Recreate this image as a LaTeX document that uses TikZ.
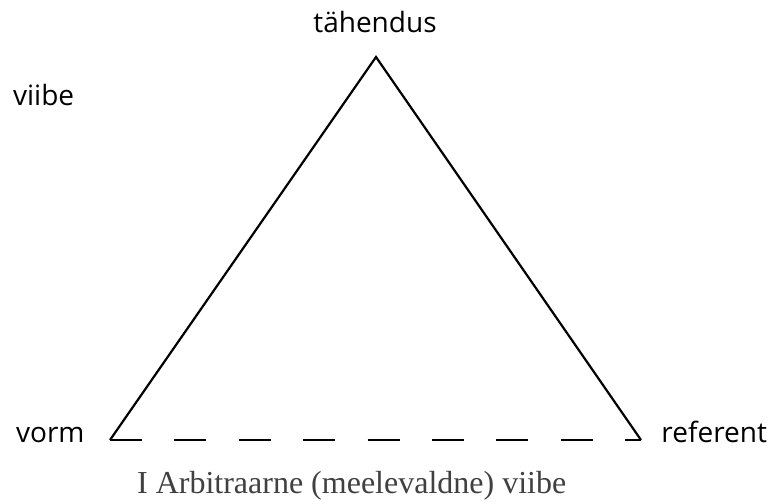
\documentclass[tikz,border=0pt]{standalone}
\usepackage{fontspec}
\setmainfont{Liberation Serif}
\newfontfamily\labelfont{Open Sans}
\begin{document}
\begin{tikzpicture}[x=1pt, y=1pt, line width=2.2pt]
		% picture frame, 770 x 503
		\useasboundingbox (0, 0) rectangle (770, 503);
		\tikzset{word/.style={font=\labelfont\fontsize{28}{32}\selectfont, inner sep=0pt}}
		% corners of the triangle
		\coordinate (top) at (376, 446);
		\coordinate (form) at (110, 63);
		\coordinate (ref) at (641, 63);
		\draw (form) -- (top) -- (ref);
		\draw[dash pattern=on 32pt off 32.4pt] (form) -- (ref);
		% labels
		\node[word, anchor=base] (meaning) at (375, 470) {tähendus};
		\node[word, anchor=base west] (sign) at (12, 397) {viibe};
		\node[word, anchor=base west] (formlabel) at (15, 61) {vorm};
		\node[word, anchor=base east] (reflabel) at (768, 61) {referent};
		\node[anchor=base west, inner sep=0pt, text=black!75, font=\fontsize{32}{36}\selectfont] (caption) at (136, 10) {I Arbitraarne (meelevaldne) viibe};
	\end{tikzpicture}
\end{document}
